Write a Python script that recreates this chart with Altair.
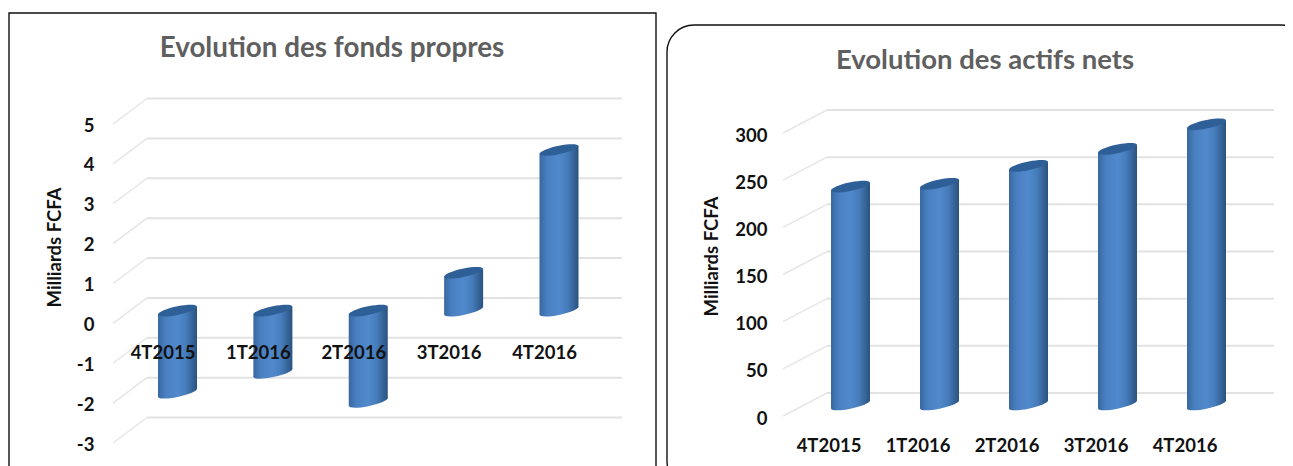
import altair as alt
import pandas as pd

categories = ["4T2015", "1T2016", "2T2016", "3T2016", "4T2016"]
fonds_propres = [-2.06, -1.56, -2.29, 0.95, 4.03]
actifs_nets = [231, 234, 253, 271, 297]
ticks_fp = [-3, -2, -1, 0, 1, 2, 3, 4, 5]
ticks_an = [0, 50, 100, 150, 200, 250, 300]
FONT = "Lato"
PH = 458
BAR_W = 39.0
SHEAR = 0.2

grad = alt.LinearGradient(
    gradient="linear", x1=0, x2=1, y1=0, y2=0,
    stops=[alt.GradientStop(color="#38689f", offset=0),
           alt.GradientStop(color="#4a80c2", offset=0.2),
           alt.GradientStop(color="#5089cc", offset=0.5),
           alt.GradientStop(color="#467cba", offset=0.72),
           alt.GradientStop(color="#2a527f", offset=1)])
CAP = "#2f5f97"


def ellipse_path(s=SHEAR, k=0.22):
    K = 0.5523
    a = (1.0, -s)
    b = (0.0, k)
    def p(u, v):
        return f"{a[0]*u + b[0]*v:.4f},{a[1]*u + b[1]*v:.4f}"
    return (f"M{p(1,0)}C{p(1,K)} {p(K,1)} {p(0,1)}C{p(-K,1)} {p(-1,K)} {p(-1,0)}"
            f"C{p(-1,-K)} {p(-K,-1)} {p(0,-1)}C{p(K,-1)} {p(1,-K)} {p(1,0)}Z")


def panel(title, values, ticks, domain, yrange, xrange_, width, frame, radius,
          grid_x, wall_dy, mid_dy, axis_off, title_x, title_y, text_x, text_y,
          x_off, label_off, fs_title, sub_title="Milliards FCFA", ylab_off=0):
    n = len(categories)
    px_per_x = (xrange_[1] - xrange_[0]) / (n - 1)
    px_per_y = (yrange[0] - yrange[1]) / (domain[1] - domain[0])
    half_x = BAR_W / 2 / px_per_x
    shear_y = SHEAR * BAR_W / 2 / px_per_y

    idx = list(range(n))
    tops = [max(v, 0) for v in values]
    bottoms = [min(v, 0) for v in values]
    bars = pd.DataFrame({"i": idx, "top": tops, "bottom": bottoms})
    rows = []
    for i, t, b in zip(idx, tops, bottoms):
        rows.append({"i": i, "xs": i - half_x, "ytop": t - shear_y, "ybot": b - shear_y})
        rows.append({"i": i, "xs": i + half_x, "ytop": t + shear_y, "ybot": b + shear_y})
    sides = pd.DataFrame(rows)
    grid = pd.DataFrame({"v": ticks})

    y_scale = alt.Scale(domain=domain, range=yrange, nice=False, zero=False)
    x_scale = alt.Scale(domain=[0, n - 1], range=xrange_, nice=False, zero=False)
    label_expr = "[" + ",".join(f"'{c}'" for c in categories) + "][datum.value]"
    x_axis = alt.Axis(title=None, domain=False, ticks=False, grid=False, labelAngle=0,
                      values=idx, labelExpr=label_expr,
                      labelFont=FONT, labelFontWeight="bold", labelFontSize=18.5,
                      labelColor="#111111", labelPadding=0, labelBaseline="middle",
                      labelOffset=label_off, offset=x_off, zindex=1, labelBound=False,
                      labelFlush=False, labelOverlap=False)
    y_axis = alt.Axis(title=sub_title, values=ticks, domain=False, ticks=False, grid=False,
                      labelExpr="'' + datum.value", labelFont=FONT, labelFontWeight="bold",
                      labelFontSize=18.5,
                      labelColor="#111111", labelPadding=0, labelOffset=ylab_off,
                      offset=axis_off, titleFont=FONT, titleFontWeight="bold",
                      titleFontSize=18.5, titleColor="#111111", titleAngle=-90,
                      titleX=title_x, titleY=title_y, titleAlign="center",
                      titleBaseline="middle", zindex=1)

    frame_layer = alt.Chart(pd.DataFrame({"f": [0]})).mark_rect(
        fill="white", stroke="#111111", strokeWidth=1.4, cornerRadius=radius, clip=True
    ).encode(x=alt.value(frame[0]), x2=alt.value(frame[1]),
             y=alt.value(frame[2]), y2=alt.value(frame[3]))

    wall = alt.Chart(grid).mark_rule(color="#e2e2e2", strokeWidth=2, yOffset=wall_dy).encode(
        y=alt.Y("v:Q", scale=y_scale, axis=y_axis),
        x=alt.value(grid_x[1]), x2=alt.value(grid_x[2]))
    slant = alt.Chart(grid).mark_rule(color="#e6e6e6", strokeWidth=1.5, y2Offset=wall_dy).encode(
        y=alt.Y("v:Q", scale=y_scale), y2=alt.Y2("v:Q"),
        x=alt.value(grid_x[0]), x2=alt.value(grid_x[1]))

    shape = ellipse_path()
    size = BAR_W ** 2
    x_enc = alt.X("i:Q", scale=x_scale, axis=x_axis)
    bottom_cap = alt.Chart(bars).mark_point(
        filled=True, fill=grad, opacity=1, strokeWidth=0, shape=shape, size=size, yOffset=mid_dy
    ).encode(x=x_enc, y=alt.Y("bottom:Q", scale=y_scale))
    body = alt.Chart(sides).mark_area(
        fill=grad, opacity=1, yOffset=mid_dy, y2Offset=mid_dy, orient="vertical"
    ).encode(x=alt.X("xs:Q", scale=x_scale), y=alt.Y("ytop:Q", scale=y_scale),
             y2=alt.Y2("ybot:Q"), detail="i:N")
    top_cap = alt.Chart(bars).mark_point(
        filled=True, fill=CAP, opacity=1, strokeWidth=0, shape=shape, size=size, yOffset=mid_dy
    ).encode(x=x_enc, y=alt.Y("top:Q", scale=y_scale))
    head = alt.Chart(pd.DataFrame({"t": [title]})).mark_text(
        font=FONT, fontWeight="bold", fontSize=fs_title, color="#5f5f5f", align="center",
        baseline="middle"
    ).encode(x=alt.value(text_x), y=alt.value(text_y), text="t:N")

    return alt.layer(frame_layer, wall, slant, bottom_cap, body, top_cap, head).properties(
        width=width, height=PH)


left = panel("Evolution des fonds propres", fonds_propres, ticks_fp, [-3, 5], [435, 116],
             [169.5, 551], 652, (1, 648, 5, 480), 0, (105, 139, 614), -25.5, -12.75,
             -86, -40, 239, 324, 41, -114, -15, 27.8, ylab_off=1)
right = panel("Evolution des actifs nets", actifs_nets, ticks_an, [0, 300], [408, 125],
              [190.5, 546.5], 625, (7, 648, 17, 480), 27, (123, 167, 614), -23, -11.5,
              -107, -56, 248, 325, 53, -21, -22, 27.5, ylab_off=2)

chart = alt.hconcat(left, right, spacing=0).properties(
    padding=0, background="white"
).configure_view(stroke=None).configure_concat(spacing=0)
chart.save("out.html", embed_options={"renderer": "svg", "actions": False})
